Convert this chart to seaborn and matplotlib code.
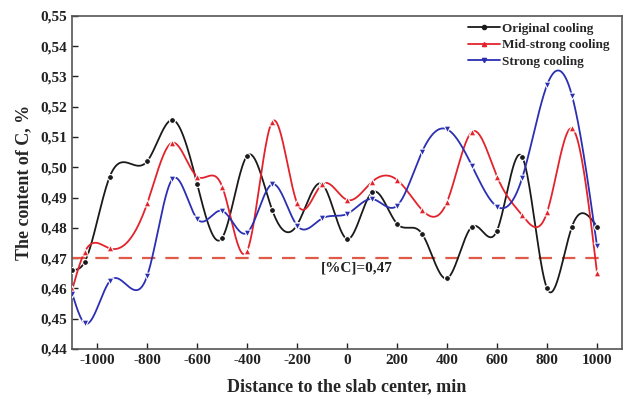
import numpy as np
import pandas as pd
import seaborn as sns
import matplotlib
matplotlib.use("Agg")
import matplotlib.pyplot as plt
from matplotlib.lines import Line2D
from matplotlib.ticker import FuncFormatter, MultipleLocator

# ==========================================================
# Data
# ==========================================================

distance = [-1100, -1050, -950, -800, -700, -600, -500, -400, -300, -200, -100,
            0, 100, 200, 300, 400, 500, 600, 700, 800, 900, 1000]

original = [0.4661, 0.4688, 0.4969, 0.5020, 0.5156, 0.4944, 0.4767, 0.5038, 0.4859, 0.4810, 0.4944,
            0.4763, 0.4917, 0.4813, 0.4780, 0.4633, 0.4804, 0.4791, 0.5035, 0.4600, 0.4804, 0.4804]

mid_strong = [0.4597, 0.4721, 0.4732, 0.4881, 0.5081, 0.4969, 0.4936, 0.4724, 0.5150, 0.4881, 0.4944,
              0.4892, 0.4952, 0.4958, 0.4859, 0.4886, 0.5117, 0.4969, 0.4842, 0.4851, 0.5128, 0.4652]

strong = [0.4582, 0.4485, 0.4624, 0.4642, 0.4960, 0.4829, 0.4856, 0.4784, 0.4944, 0.4807, 0.4831,
          0.4846, 0.4895, 0.4873, 0.5051, 0.5125, 0.5004, 0.4870, 0.4963, 0.5271, 0.5236, 0.4740]

series_names = ["Original cooling", "Mid-strong cooling", "Strong cooling"]
limit_value = 0.47
limit_label = "[%C]=0,47"


# ==========================================================
# Natural cubic spline (for the smooth connecting line)
# ==========================================================

def natural_spline(x, y, n=800):
    x = np.asarray(x, float)
    y = np.asarray(y, float)
    k = len(x)
    h = np.diff(x)
    A = np.zeros((k, k))
    b = np.zeros(k)
    A[0, 0] = 1
    A[-1, -1] = 1
    for i in range(1, k - 1):
        A[i, i - 1] = h[i - 1]
        A[i, i] = 2 * (h[i - 1] + h[i])
        A[i, i + 1] = h[i]
        b[i] = 6 * ((y[i + 1] - y[i]) / h[i] - (y[i] - y[i - 1]) / h[i - 1])
    M = np.linalg.solve(A, b)
    xs = np.linspace(x[0], x[-1], n)
    idx = np.clip(np.searchsorted(x, xs) - 1, 0, k - 2)
    x0, x1 = x[idx], x[idx + 1]
    hh = x1 - x0
    t0 = x1 - xs
    t1 = xs - x0
    ys = (M[idx] * t0 ** 3 / (6 * hh) + M[idx + 1] * t1 ** 3 / (6 * hh)
          + (y[idx] / hh - M[idx] * hh / 6) * t0
          + (y[idx + 1] / hh - M[idx + 1] * hh / 6) * t1)
    return xs, ys


# ==========================================================
# Plot
# ==========================================================

sns.set_style("ticks")
plt.rcParams["font.family"] = ["Liberation Serif", "DejaVu Serif"]
plt.rcParams["font.weight"] = "bold"
plt.rcParams["axes.unicode_minus"] = False

fig = plt.figure(figsize=(6.33, 4.01), dpi=100)
ax = fig.add_axes([0.1142, 0.1297, 0.8684, 0.8311])

colors = ["#1a1a1a", "#e3232b", "#2b2fb2"]
markers = ["o", "^", "v"]
sizes = [18, 24, 24]

for name, values, color, marker, size in zip(series_names, [original, mid_strong, strong],
                                             colors, markers, sizes):
    xs, ys = natural_spline(distance, values)
    smooth = pd.DataFrame({"x": xs, "y": ys})
    sns.lineplot(data=smooth, x="x", y="y", color=color, linewidth=1.3, ax=ax,
                 estimator=None, sort=False)
    points = pd.DataFrame({"x": distance, "y": values})
    sns.scatterplot(data=points, x="x", y="y", color=color, marker=marker, s=size,
                    edgecolor="white", linewidth=0.8, ax=ax, zorder=3)

ax.axhline(limit_value, xmax=0.97, color="#e05a48", linestyle=(0, (6, 4.5)), linewidth=1.6, zorder=1)
ax.text(40, 0.4667, limit_label, ha="center", va="center", fontsize=11, fontweight="bold",
        color="#222222")

ax.set_xlim(-1100, 1100)
ax.set_ylim(0.44, 0.55)
ax.xaxis.set_major_locator(MultipleLocator(200))
ax.yaxis.set_major_locator(MultipleLocator(0.01))
ax.yaxis.set_major_formatter(FuncFormatter(lambda v, p: f"{v:.2f}".replace(".", ",")))
ax.tick_params(direction="in", length=4, width=1, labelsize=11, colors="#222222")

for spine in ax.spines.values():
    spine.set_visible(True)
    spine.set_color("#555555")
    spine.set_linewidth(1.2)

ax.set_xlabel("Distance to the slab center, min", fontsize=13, fontweight="bold", labelpad=8)
ax.set_ylabel("The content of C, %", fontsize=13, fontweight="bold", labelpad=6)

handles = [Line2D([0], [0], color=c, marker=m, markersize=3, linewidth=1.3)
           for c, m in zip(colors, markers)]
ax.legend(handles, series_names, loc="upper right", frameon=False, fontsize=9.5,
          handlelength=2.4, handletextpad=0.2, labelspacing=0.34, borderaxespad=0.1,
          bbox_to_anchor=(0.99, 1.0))

fig.savefig("out.png", dpi=100)
